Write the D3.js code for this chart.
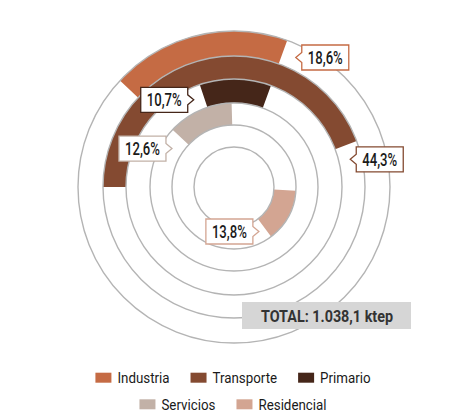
<!DOCTYPE html>
<html><head><meta charset="utf-8">
<script src="https://cdn.jsdelivr.net/npm/d3@7"></script>
<style>body{margin:0;background:#fff}svg{display:block}</style>
</head><body>
<svg id="c" width="468" height="416"></svg>
<script>
// ---- data ----
const categories = ["Industria","Transporte","Primario","Servicios","Residencial"];
const values = [18.6, 44.3, 10.7, 12.6, 13.8];
const startAngles = [-47, -90, -18.5, -47, 93.5]; // degrees, clockwise from top
const colors = ["#c56b44","#844a31","#452619","#c2b1a7","#d3a592"];
const totalLabel = "TOTAL: 1.038,1 ktep";
const legendRows = [["Industria","Transporte","Primario"],["Servicios","Residencial"]];

// ---- layout ----
const W = 468, H = 416, cx = 234, cy = 187;
const ringEdges = [156, 131, 108, 84, 62, 40]; // outer to inner
const labelAngles = [25.5, 76.6, -24.8, -58.2, 150.8];
const labelSide = ["right","right","left","left","left"]; // box relative to tip

const svg = d3.select("#c");
const g = svg.append("g").attr("transform", `translate(${cx},${cy})`);
const rad = d => d * Math.PI / 180;
const fmt = v => d3.format(".1f")(v).replace(".", ",") + "%";

const arc = d3.arc();
categories.forEach((c, i) => {
  const a0 = rad(startAngles[i]);
  const a1 = rad(startAngles[i] + values[i] * 3.6);
  g.append("path")
    .attr("d", arc({innerRadius: ringEdges[i+1], outerRadius: ringEdges[i], startAngle: a0, endAngle: a1}))
    .attr("fill", colors[i]);
});

ringEdges.forEach(r => {
  g.append("circle").attr("r", r).attr("fill", "none")
    .attr("stroke", "#b4b4b4").attr("stroke-width", 1.4);
});

// callout labels
const bw = 47, bh = 25, nd = 6, nh = 5;
categories.forEach((c, i) => {
  const rm = (ringEdges[i] + ringEdges[i+1]) / 2;
  const a = rad(labelAngles[i]);
  const tx = cx + rm * Math.sin(a), ty = cy - rm * Math.cos(a);
  let x0, pathD;
  const y0 = ty - bh/2;
  if (labelSide[i] === "right") {
    x0 = tx + nd;
    pathD = `M${x0},${y0}H${x0+bw}V${y0+bh}H${x0}V${ty+nh}L${tx},${ty}L${x0},${ty-nh}Z`;
  } else {
    x0 = tx - nd - bw;
    const xr = x0 + bw;
    pathD = `M${x0},${y0}H${xr}V${ty-nh}L${tx},${ty}L${xr},${ty+nh}V${y0+bh}H${x0}Z`;
  }
  svg.append("path").attr("d", pathD).attr("fill", "#fff")
    .attr("stroke", colors[i]).attr("stroke-width", 1.3);
  svg.append("text").attr("x", x0 + bw/2).attr("y", ty + 6.3)
    .attr("text-anchor", "middle")
    .attr("font-family", "Roboto").attr("font-size", 17.5).attr("font-weight", 500)
    .attr("fill", "#1a1a1a")
    .attr("textLength", 35).attr("lengthAdjust", "spacingAndGlyphs")
    .text(fmt(values[i]));
});

// total box
svg.append("rect").attr("x", 242).attr("y", 302).attr("width", 169).attr("height", 27)
  .attr("fill", "#d6d6d6");
const tt = svg.append("text").attr("x", 327).attr("y", 321.8).attr("text-anchor", "middle")
  .attr("font-family", "Roboto").attr("font-weight", "bold").attr("font-size", 16.5)
  .attr("fill", "#333").text(totalLabel);
tt.attr("textLength", 132).attr("lengthAdjust", "spacingAndGlyphs");

// legend
const lg = svg.append("g");
const rowY = [372.7, 399.3];
legendRows.forEach((row, ri) => {
  const items = row.map(name => {
    const t = lg.append("text").attr("font-family", "Roboto").attr("font-size", 15.5)
      .attr("fill", "#1a1a1a").text(name);
    const w = t.node().getComputedTextLength() * 0.86;
    t.attr("textLength", w).attr("lengthAdjust", "spacingAndGlyphs");
    return {name, t, w};
  });
  const sw = 16, gap1 = 6, gap2 = 21;
  const total = d3.sum(items, d => sw + gap1 + d.w) + gap2 * (items.length - 1);
  let x = 233 - total / 2;
  items.forEach(it => {
    const ci = categories.indexOf(it.name);
    lg.append("rect").attr("x", x).attr("y", rowY[ri]).attr("width", sw).attr("height", 10)
      .attr("fill", colors[ci]);
    it.t.attr("x", x + sw + gap1).attr("y", rowY[ri] + 10.5);
    x += sw + gap1 + it.w + gap2;
  });
});
</script>
</body></html>
